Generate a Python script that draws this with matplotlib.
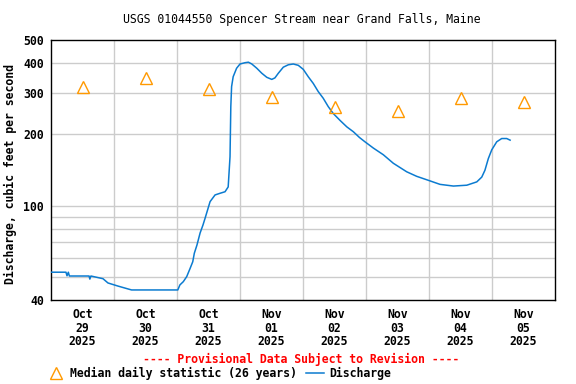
import numpy as np
import pandas as pd
import matplotlib
matplotlib.use('Agg')
import matplotlib.pyplot as plt
from matplotlib.lines import Line2D

# discharge readings, hours after 2025-10-29 00:00 and cubic feet per second
hours = [0, 5.7, 6.1, 6.6, 7.0, 14.5, 14.8, 15.2, 19.8, 21.7, 25.5, 30.7, 48.3,
         49.1, 50.4, 51.7, 53.0, 54.0, 54.6, 55.6, 56.8, 57.9, 58.7, 60.6, 62.5,
         64.4, 66.3, 67.5, 68.2, 68.5, 68.8, 69.4, 70.7, 72.0, 73.9, 75.2, 76.5,
         78.4, 80.3, 82.2, 84.1, 85.3, 86.6, 88.5, 90.4, 92.3, 94.2, 96.1, 98.0,
         99.9, 101.8, 103.7, 105.6, 107.5, 110.1, 112.7, 115.2, 117.5, 119.6,
         122.8, 126.6, 130.4, 135.5, 139.3, 143.7, 148.2, 153.3, 158.4, 162.2,
         164.1, 165.3, 166.6, 167.9, 169.8, 171.7, 173.6, 174.9]
discharge = [52.4, 52.4, 50.6, 52.4, 50.5, 50.5, 49.0, 50.5, 49.2, 47.2, 45.8, 44.1, 44.1,
             46.3, 47.8, 50.2, 54.4, 58.0, 63.0, 68.2, 76.7, 82.9, 88.5, 104, 111,
             112.8, 114.5, 120, 161, 262, 318, 350, 380, 396, 401, 403, 396,
             380, 362, 348, 341, 346, 362, 384, 393, 396, 391, 376, 350,
             328, 303, 284, 262, 245, 229, 215, 205, 194, 186,
             175, 164, 151, 139, 133, 128, 123, 121, 122, 126,
             132, 141, 158, 172, 186, 192, 192, 189]

# median daily statistic, one per day at noon
median_days = ['2025-10-29', '2025-10-30', '2025-10-31', '2025-11-01',
               '2025-11-02', '2025-11-03', '2025-11-04', '2025-11-05']
median_values = [318, 346, 312, 288, 262, 250, 285, 274]

y_labels = [40, 100, 200, 300, 400, 500]
y_grid = [50, 60, 70, 80, 90, 100, 200, 300, 400]

start = pd.Timestamp('2025-10-29')
times = start + pd.to_timedelta(hours, unit='h')
median_times = pd.to_datetime(median_days) + pd.Timedelta(hours=12)

plt.rcParams['font.family'] = 'DejaVu Sans Mono'
plt.rcParams['font.size'] = 8.3

fig = plt.figure(figsize=(5.76, 3.84), dpi=100)
ax = fig.add_axes([51 / 576, 84 / 384, 504 / 576, 260 / 384])

ax.plot(times, discharge, color='#0b7bd0', linewidth=1.1, zorder=3)
ax.plot(median_times, median_values, linestyle='none', marker='^', markersize=8,
        markerfacecolor='none', markeredgecolor='#ff9900', markeredgewidth=1.0, zorder=4)

# log y axis with plain labels
ax.set_yscale('log')
ax.set_ylim(40, 500)
ax.yaxis.set_major_locator(matplotlib.ticker.FixedLocator(y_labels))
ax.yaxis.set_major_formatter(matplotlib.ticker.FixedFormatter([str(v) for v in y_labels]))
ax.yaxis.set_minor_locator(matplotlib.ticker.NullLocator())
for v in y_grid:
    ax.axhline(v, color='#cccccc', linewidth=1.0, zorder=1)

# x axis: gridlines at midnight, labels at noon
ax.set_xlim(start, start + pd.Timedelta(days=8))
day_edges = start + pd.to_timedelta(np.arange(1, 8), unit='D')
for d in day_edges:
    ax.axvline(d, color='#cccccc', linewidth=1.0, zorder=1)
ax.set_xticks(median_times)
ax.set_xticklabels([t.strftime('%b\n%d\n%Y') for t in median_times], fontweight='bold',
                   linespacing=1.02)
ax.tick_params(axis='x', length=0, pad=6)
ax.tick_params(axis='y', length=0, pad=5)
for lbl in ax.get_yticklabels():
    lbl.set_fontweight('bold')

for s in ax.spines.values():
    s.set_linewidth(1.0)

ax.set_ylabel('Discharge, cubic feet per second', fontweight='bold')
ax.yaxis.set_label_coords(-34 / 504, 125.5 / 260)
fig.text(302 / 576, 1 - 19 / 384, 'USGS 01044550 Spencer Stream near Grand Falls, Maine',
         ha='center', va='center')
fig.text(301 / 576, 1 - 359 / 384, '---- Provisional Data Subject to Revision ----',
         ha='center', va='center', color='red', fontweight='bold')

handles = [Line2D([], [], linestyle='none', marker='^', markersize=8, markerfacecolor='none',
                  markeredgecolor='#ff9900'),
           Line2D([], [], color='#0b7bd0', linewidth=1.1)]
fig.legend(handles, ['Median daily statistic (26 years)', 'Discharge'], ncol=2,
           loc='center left', bbox_to_anchor=(41.5 / 576, 1 - 373 / 384), frameon=False,
           handlelength=1.6, handletextpad=0.4, columnspacing=0.75, borderpad=0,
           prop={'weight': 'bold'})

fig.savefig('out.png', dpi=100)
